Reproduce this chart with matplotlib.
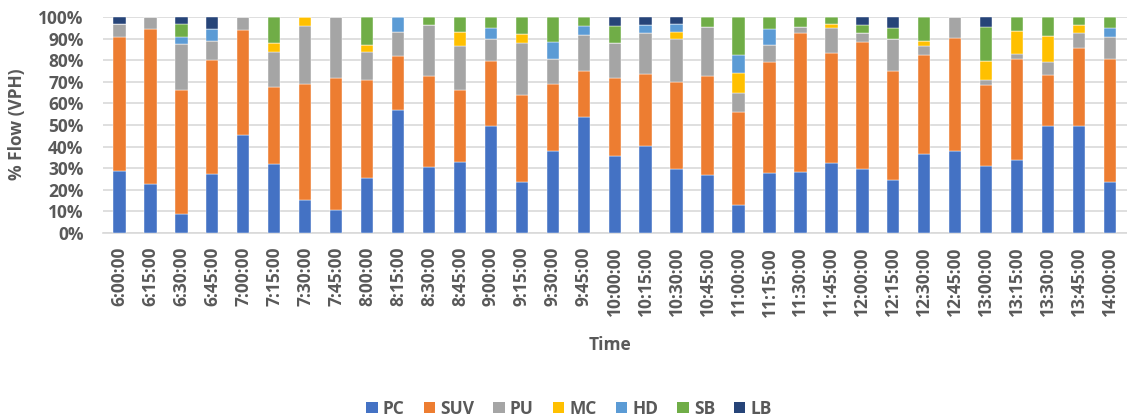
import matplotlib
matplotlib.use("Agg")
import matplotlib.pyplot as plt
from matplotlib.patches import Patch
import numpy as np

times = ["6:00:00", "6:15:00", "6:30:00", "6:45:00", "7:00:00", "7:15:00", "7:30:00",
         "7:45:00", "8:00:00", "8:15:00", "8:30:00", "8:45:00", "9:00:00", "9:15:00",
         "9:30:00", "9:45:00", "10:00:00", "10:15:00", "10:30:00", "10:45:00", "11:00:00",
         "11:15:00", "11:30:00", "11:45:00", "12:00:00", "12:15:00", "12:30:00", "12:45:00",
         "13:00:00", "13:15:00", "13:30:00", "13:45:00", "14:00:00"]

pc = [28.7, 22.7, 8.8, 27.3, 45.4, 31.9, 15.3, 10.8, 25.5, 57.1, 30.6, 33.0, 49.7, 23.8,
      38.1, 53.9, 35.8, 40.4, 29.6, 27.0, 13.0, 27.9, 28.4, 32.6, 29.5, 24.4, 36.6, 37.8,
      31.0, 33.8, 49.7, 49.7, 23.6]
suv = [62.0, 71.6, 57.6, 52.9, 48.6, 35.8, 53.8, 61.1, 45.3, 24.8, 42.2, 33.4, 30.1, 40.1,
       31.0, 20.9, 36.1, 33.4, 40.2, 45.7, 43.0, 51.4, 64.2, 50.7, 59.1, 50.6, 45.8, 52.5,
       37.5, 46.8, 23.6, 35.9, 57.0]
pu = [5.9, 5.7, 21.3, 8.5, 6.0, 16.1, 26.9, 28.1, 13.0, 11.0, 23.3, 20.2, 10.0, 23.9,
      11.6, 16.9, 15.9, 18.6, 20.0, 22.5, 9.0, 7.7, 2.6, 11.6, 3.8, 15.0, 4.3, 9.7,
      2.3, 2.3, 5.9, 7.0, 10.0]
mc = [0, 0, 0, 0, 0, 4.0, 4.0, 0, 3.1, 0, 0, 6.6, 0, 4.2,
      0, 0, 0, 0, 3.4, 0, 8.9, 0, 0, 1.7, 0, 0, 2.2, 0,
      9.0, 10.6, 11.8, 3.7, 0]
hd = [0, 0, 3.0, 5.6, 0, 0, 0, 0, 0, 7.1, 0, 0, 5.1, 0,
      7.6, 4.0, 0, 3.9, 3.4, 0, 8.7, 7.6, 0, 0, 0, 0, 0, 0,
      0, 0, 0, 0, 4.5]
sb = [0, 0, 6.2, 0, 0, 12.2, 0, 0, 13.1, 0, 3.9, 6.8, 5.1, 8.0,
      11.7, 4.3, 8.0, 0, 0, 4.8, 17.4, 5.4, 4.8, 3.4, 3.7, 4.9, 11.1, 0,
      15.6, 6.5, 9.0, 3.7, 4.9]
lb = [3.4, 0, 3.1, 5.7, 0, 0, 0, 0, 0, 0, 0, 0, 0, 0,
      0, 0, 4.2, 3.7, 3.4, 0, 0, 0, 0, 0, 3.9, 5.1, 0, 0,
      4.6, 0, 0, 0, 0]

series_names = ["PC", "SUV", "PU", "MC", "HD", "SB", "LB"]
series_colors = ["#4472C4", "#ED7D31", "#A5A5A5", "#FFC000", "#5B9BD5", "#70AD47", "#264478"]

plt.rcParams['font.family'] = ['Open Sans', 'DejaVu Sans']
text_color = "#595959"
grid_color = "#D9D9D9"
fs = 12.5

fig = plt.figure(figsize=(11.27, 4.2), dpi=100)
ax = fig.add_axes([0.0914, 0.445, 0.9086, 0.5145])

data = np.array([pc, suv, pu, mc, hd, sb, lb], dtype=float)
data = data / data.sum(axis=0) * 100.0
x = np.arange(len(times))
bottom = np.zeros(len(times))
for vals, name, color in zip(data, series_names, series_colors):
    ax.bar(x, vals, width=0.4, bottom=bottom, color=color, label=name,
           edgecolor="white", linewidth=0.3, zorder=3)
    bottom += vals

ax.set_ylim(0, 100)
ax.set_xlim(-0.53, len(times) - 0.45)
ax.set_yticks(np.arange(0, 101, 10))
ax.set_yticklabels([f"{v}%" for v in range(0, 101, 10)])
ax.set_xticks(x)
ax.set_xticklabels(times, rotation=90)
ax.yaxis.grid(True, color=grid_color, linewidth=1.2, zorder=0)
ax.set_axisbelow(True)
for side in ["left", "right", "top"]:
    ax.spines[side].set_visible(False)
ax.spines["bottom"].set_color(grid_color)
ax.spines["bottom"].set_linewidth(1.2)
ax.tick_params(axis="both", length=0, colors=text_color, labelsize=fs)
ax.tick_params(axis="x", pad=10)
ax.tick_params(axis="y", pad=14)
for lab in ax.get_xticklabels() + ax.get_yticklabels():
    lab.set_fontweight("bold")

fig.text(0.0155, 0.705, "% Flow (VPH)", fontsize=fs, fontweight="bold", color=text_color,
         rotation=90, ha="center", va="center")
fig.text(0.541, 0.178, "Time", fontsize=fs, fontweight="bold", color=text_color,
         ha="center", va="center")

handles = [Patch(facecolor=c, edgecolor="none") for c in series_colors]
fig.legend(handles, series_names, loc="center", bbox_to_anchor=(0.505, 0.027), ncol=7,
           frameon=False, handlelength=0.65, handleheight=0.65, handletextpad=0.3,
           columnspacing=1.1, prop={"size": fs, "weight": "bold"}, labelcolor=text_color)

fig.savefig("out.png", dpi=100)
